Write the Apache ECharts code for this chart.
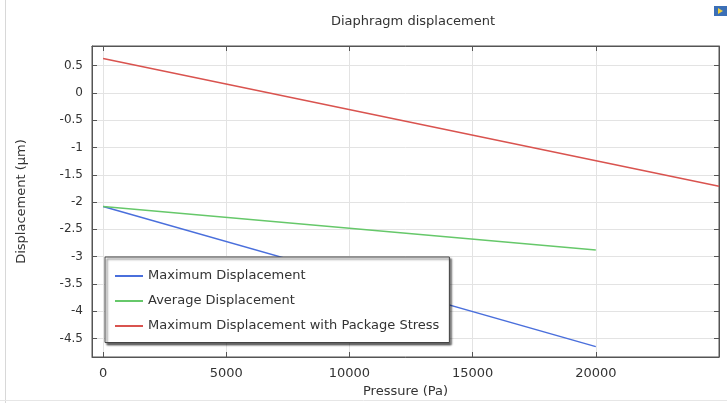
<!DOCTYPE html>
<html>
<head>
<meta charset="utf-8">
<script src="https://cdn.jsdelivr.net/npm/echarts@6/dist/echarts.min.js"></script>
<style>
  html, body { margin: 0; padding: 0; background: #fff; }
  #chart { width: 727px; height: 403px; }
</style>
</head>
<body>
<div id="chart"></div>
<script>
// values
const pressure = [0, 20000];
const maxDisp = [-2.08, -4.65];
const avgDisp = [-2.08, -2.88];
const pressureStress = [0, 25000];
const stressDisp = [0.63, -1.71];

const xTicks = [0, 5000, 10000, 15000, 20000];
const xTickMarks = [0, 5000, 10000, 15000, 20000, 25000];
const yTicks = [0.5, 0, -0.5, -1, -1.5, -2, -2.5, -3, -3.5, -4, -4.5];

const seriesNames = ['Maximum Displacement', 'Average Displacement', 'Maximum Displacement with Package Stress'];

const pairs = (xs, ys) => xs.map((x, i) => [x, ys[i]]);

const font = 'DejaVu Sans';
const axisColor = '#555';
const gridColor = '#e3e3e3';

const xBase = {
    type: 'value',
    min: -450,
    max: 25000,
    axisLine: { onZero: false, lineStyle: { color: axisColor } },
    axisTick: { inside: true, length: 5, customValues: xTickMarks, lineStyle: { color: axisColor } },
    splitLine: { show: false }
};
const yBase = {
    type: 'value',
    min: -4.84,
    max: 0.86,
    axisLine: { onZero: false, lineStyle: { color: axisColor } },
    axisTick: { inside: true, length: 5, customValues: yTicks, lineStyle: { color: axisColor } },
    splitLine: { show: false }
};

let option = {
    animation: false,
    title: {
        text: 'Diaphragm displacement',
        left: 408,
        textAlign: 'center',
        top: 10,
        textStyle: { fontFamily: font, fontSize: 13, fontWeight: 'normal', color: '#333' }
    },
    grid: { left: 92, right: 8, top: 46, bottom: 46, show: true, borderColor: axisColor, borderWidth: 1 },
    legend: {
        orient: 'vertical',
        left: 105,
        top: 257,
        padding: [12.5, 10, 10, 10],
        itemGap: 12,
        itemWidth: 28,
        itemHeight: 14,
        icon: 'path://M0,6 L28,6 L28,8 L0,8 Z',
        align: 'left',
        backgroundColor: '#fff',
        borderColor: '#444',
        borderWidth: 1,
        shadowColor: 'rgba(0,0,0,0.6)',
        shadowBlur: 2,
        shadowOffsetX: 2,
        shadowOffsetY: 2,
        textStyle: { fontFamily: font, fontSize: 13, color: '#333', padding: [0, 0, 0, 0] },
        data: seriesNames
    },
    xAxis: [
        Object.assign({}, xBase, {
            position: 'bottom',
            name: 'Pressure (Pa)',
            nameLocation: 'middle',
            nameGap: 28,
            nameTextStyle: { fontFamily: font, fontSize: 13, color: '#333' },
            axisLabel: { customValues: xTicks, fontFamily: font, fontSize: 13, color: '#333', margin: 10, formatter: v => String(v) },
            splitLine: { show: true, lineStyle: { color: gridColor } }
        }),
        Object.assign({}, xBase, { position: 'top', axisLabel: { show: false } })
    ],
    yAxis: [
        Object.assign({}, yBase, {
            position: 'left',
            name: 'Displacement (µm)',
            nameLocation: 'middle',
            nameGap: 64,
            nameTextStyle: { fontFamily: font, fontSize: 13, color: '#333' },
            axisLabel: { customValues: yTicks, fontFamily: font, fontSize: 12, color: '#333', margin: 9, formatter: v => String(v) },
            splitLine: { show: true, lineStyle: { color: gridColor } }
        }),
        Object.assign({}, yBase, { position: 'right', axisLabel: { show: false } })
    ],
    series: [
        {
            name: seriesNames[0],
            type: 'line',
            symbol: 'none',
            data: pairs(pressure, maxDisp),
            lineStyle: { color: '#4a6fdc', width: 1.5 },
            itemStyle: { color: '#4a6fdc' }
        },
        {
            name: seriesNames[1],
            type: 'line',
            symbol: 'none',
            data: pairs(pressure, avgDisp),
            lineStyle: { color: '#66c86a', width: 1.5 },
            itemStyle: { color: '#66c86a' }
        },
        {
            name: seriesNames[2],
            type: 'line',
            symbol: 'none',
            data: pairs(pressureStress, stressDisp),
            lineStyle: { color: '#d9534f', width: 1.5 },
            itemStyle: { color: '#d9534f' }
        }
    ],
    graphic: [
        { type: 'line', shape: { x1: 5.5, y1: 0, x2: 5.5, y2: 403 }, style: { stroke: '#d8d8d8', lineWidth: 1 } },
        { type: 'line', shape: { x1: 0, y1: 400.5, x2: 727, y2: 400.5 }, style: { stroke: '#e6e6e6', lineWidth: 1 } },
        { type: 'rect', shape: { x: 714, y: 6, width: 13, height: 10 }, style: { fill: '#3b6fb6' } },
        { type: 'polygon', shape: { points: [[718, 8], [718, 14], [723, 11]] }, style: { fill: '#f2d13a' } }
    ]
};

let myChart = echarts.init(document.getElementById('chart'));
myChart.setOption(option);
</script>
</body>
</html>
